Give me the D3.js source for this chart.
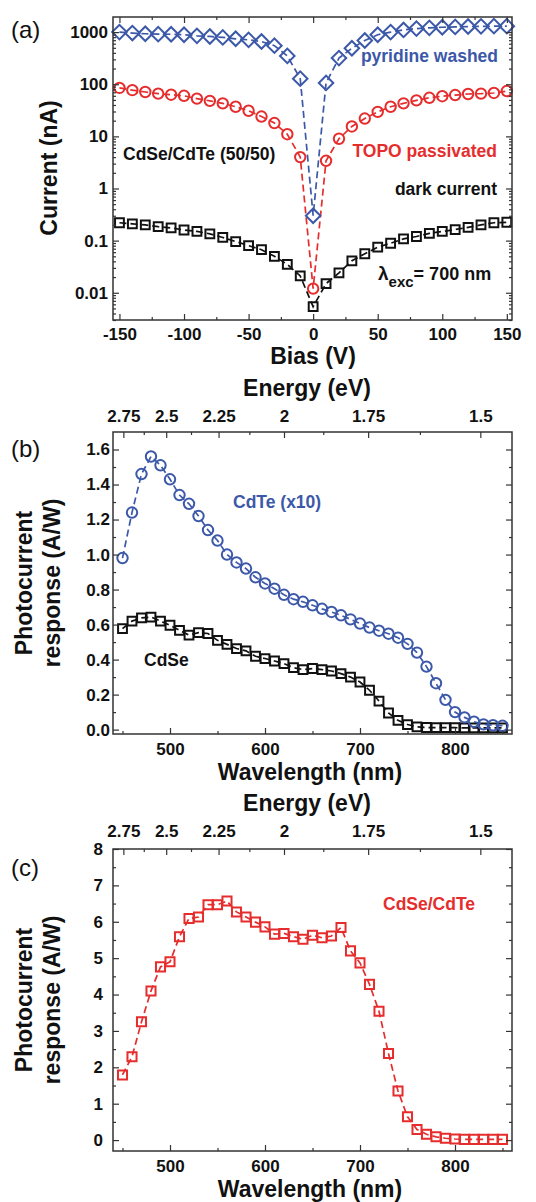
<!DOCTYPE html>
<html>
<head>
<meta charset="utf-8">
<script src="https://cdn.jsdelivr.net/npm/d3@7"></script>
<style>
  body { margin: 0; background: #fff; }
  svg { display: block; }
</style>
</head>
<body>
<script>
// (a) current vs bias
const biasV = [-150, -140, -130, -120, -110, -100, -90, -80, -70, -60, -50, -40, -30, -20, -10, 0,
  10, 20, 30, 40, 50, 60, 70, 80, 90, 100, 110, 120, 130, 140, 150];
const pyridine = [1000, 960, 930, 915, 910, 890, 850, 825, 790, 745, 710, 660, 550, 350, 128, 0.3,
  106, 318, 490, 690, 890, 1000, 1100, 1170, 1210, 1240, 1260, 1280, 1290, 1300, 1300];
const topo = [85, 77, 71, 66, 63, 60, 53, 48, 43, 37, 31, 24, 18, 11, 4, 0.012,
  3.4, 9, 15.5, 22, 29.5, 37, 43, 49, 55, 59, 62, 65, 66, 68, 74];
const dark = [0.22, 0.21, 0.2, 0.185, 0.175, 0.16, 0.15, 0.135, 0.115, 0.096, 0.08, 0.067, 0.05, 0.035, 0.021, 0.0054,
  0.015, 0.024, 0.041, 0.056, 0.075, 0.089, 0.108, 0.12, 0.138, 0.15, 0.163, 0.18, 0.2, 0.22, 0.225];
const biasTicks = [-150, -100, -50, 0, 50, 100, 150];
const biasMinor = [-125, -75, -25, 25, 75, 125];
const currentTicks = [0.01, 0.1, 1, 10, 100, 1000];

// (b), (c) spectra
const wavelength = [450, 460, 470, 480, 490, 500, 510, 520, 530, 540, 550, 560, 570, 580, 590, 600,
  610, 620, 630, 640, 650, 660, 670, 680, 690, 700, 710, 720, 730, 740, 750, 760, 770, 780, 790, 800,
  810, 820, 830, 840, 850];
const cdte = [0.98, 1.24, 1.46, 1.56, 1.51, 1.43, 1.34, 1.29, 1.22, 1.14, 1.08, 1.0, 0.955, 0.92, 0.87, 0.835,
  0.805, 0.77, 0.745, 0.73, 0.71, 0.69, 0.672, 0.653, 0.63, 0.606, 0.583, 0.565, 0.548, 0.525, 0.49, 0.44,
  0.36, 0.265, 0.17, 0.1, 0.07, 0.045, 0.03, 0.025, 0.022];
const cdse = [0.577, 0.62, 0.638, 0.643, 0.62, 0.596, 0.567, 0.54, 0.554, 0.549, 0.51, 0.487, 0.463, 0.45, 0.419, 0.406,
  0.392, 0.377, 0.354, 0.343, 0.349, 0.343, 0.335, 0.32, 0.3, 0.272, 0.225, 0.163, 0.095, 0.053, 0.029, 0.016,
  0.012, 0.011, 0.011, 0.011, 0.01, 0.01, 0.01, 0.01, 0.01];
const blend = [1.79, 2.29, 3.25, 4.1, 4.76, 4.9, 5.59, 6.09, 6.13, 6.47, 6.47, 6.57, 6.27, 6.13, 5.99, 5.86,
  5.66, 5.68, 5.59, 5.52, 5.63, 5.56, 5.61, 5.84, 5.2, 4.87, 4.28, 3.54, 2.38, 1.35, 0.64, 0.29,
  0.16, 0.09, 0.05, 0.03, 0.02, 0.02, 0.02, 0.02, 0.02];
const wlTicks = [500, 600, 700, 800];
const wlMinor = [450, 550, 650, 750, 850];
const energyTicks = [2.75, 2.5, 2.25, 2, 1.75, 1.5];
const energyLabels = ["2.75", "2.5", "2.25", "2", "1.75", "1.5"];
const energyMinor = [2.625, 2.375, 2.125, 1.875, 1.625];
const respTicksB = [0, 0.2, 0.4, 0.6, 0.8, 1.0, 1.2, 1.4, 1.6];
const respMinorB = [0.1, 0.3, 0.5, 0.7, 0.9, 1.1, 1.3, 1.5];
const respTicksC = [0, 1, 2, 3, 4, 5, 6, 7, 8];
const respMinorC = [0.5, 1.5, 2.5, 3.5, 4.5, 5.5, 6.5, 7.5];

const FONT = "'Liberation Sans', Arial, sans-serif";
const BLUE = "#3c58a8", RED = "#e62d2d", BLACK = "#111";
const left = 113, right = 512;

const svg = d3.select("body").append("svg").attr("width", 536).attr("height", 1202)
  .attr("font-family", FONT);

function axis(orient, scale, at, values, size, format, pad) {
  const maker = { bottom: d3.axisBottom, top: d3.axisTop, left: d3.axisLeft, right: d3.axisRight }[orient];
  const a = maker(scale).tickValues(values).tickSize(-size).tickPadding(pad || 0)
    .tickFormat(format || (() => ""));
  const horiz = orient === "bottom" || orient === "top";
  const g = svg.append("g")
    .attr("transform", horiz ? `translate(0,${at})` : `translate(${at},0)`)
    .call(a)
    .attr("font-family", FONT).attr("font-size", 17).attr("font-weight", "bold");
  g.select(".domain").remove();
  g.selectAll("line").attr("stroke", "#333").attr("stroke-width", 1.2);
  g.selectAll("text").attr("fill", BLACK);
  return g;
}

function frame(top, bottom) {
  svg.append("rect").attr("x", left).attr("y", top).attr("width", right - left).attr("height", bottom - top)
    .attr("fill", "none").attr("stroke", "#333").attr("stroke-width", 1.5);
}

function series(xs, ys, xs_, ys_, color, shape, size) {
  const pts = xs.map((x, i) => [xs_(x), ys_(ys[i])]);
  svg.append("path").attr("d", d3.line()(pts))
    .attr("fill", "none").attr("stroke", color).attr("stroke-width", 1.7).attr("stroke-dasharray", "7,4");
  const sym = d3.symbol().type(shape === "circle" ? d3.symbolCircle : d3.symbolSquare).size(size);
  svg.append("g").selectAll("path").data(pts).join("path")
    .attr("d", sym)
    .attr("transform", d => `translate(${d[0]},${d[1]})` + (shape === "diamond" ? " rotate(45)" : ""))
    .attr("fill", "none").attr("stroke", color).attr("stroke-width", 2);
}

function label(txt, x, y, opts) {
  const o = opts || {};
  return svg.append("text").attr("x", x).attr("y", y).text(txt)
    .attr("font-size", o.size || 17.5).attr("font-weight", o.weight || "bold")
    .attr("fill", o.color || BLACK).attr("text-anchor", o.anchor || "start");
}

function vlabel(txt, x, y) {
  svg.append("text").attr("transform", `translate(${x},${y}) rotate(-90)`)
    .attr("text-anchor", "middle").attr("dominant-baseline", "central")
    .attr("font-size", 23).attr("font-weight", "bold").attr("fill", BLACK).text(txt);
}

// ---------- panel (a)
const aTop = 17, aBot = 320;
const xBias = d3.scaleLinear().domain([-155, 154]).range([left, right]);
const yCur = d3.scaleLog().domain([0.003, 1950]).range([aBot, aTop]);
const logMinor = yCur.ticks().filter(v => !currentTicks.some(t => Math.abs(t - v) / t < 1e-6));

series(biasV, dark, xBias, yCur, BLACK, "square", 78);
series(biasV, topo, xBias, yCur, RED, "circle", 85);
series(biasV, pyridine, xBias, yCur, BLUE, "diamond", 105);

axis("bottom", xBias, aBot, biasTicks, 6, d => d, 8);
axis("bottom", xBias, aBot, biasMinor, 3);
axis("top", xBias, aTop, biasTicks, 6);
axis("top", xBias, aTop, biasMinor, 3);
axis("left", yCur, left, currentTicks, 6, d => String(d), 5);
axis("left", yCur, left, logMinor, 3);
axis("right", yCur, right, currentTicks, 6);
axis("right", yCur, right, logMinor, 3);
frame(aTop, aBot);

label("(a)", 11, 38, { size: 24, weight: "normal" });
label("pyridine washed", 498, 62, { color: BLUE, anchor: "end" });
label("TOPO passivated", 497, 157, { color: RED, anchor: "end" });
label("CdSe/CdTe (50/50)", 123, 160);
label("dark current", 497, 195, { anchor: "end" });
const lam = label("λ", 378, 280, { size: 19 });
lam.append("tspan").attr("dy", 7).attr("font-size", 15).text("exc");
lam.append("tspan").attr("dy", -7).attr("font-size", 18).text("= 700 nm");
label("Bias (V)", 313, 364, { size: 23, anchor: "middle" });
vlabel("Current (nA)", 49, 168);

// ---------- panels (b) and (c)
const xWl = d3.scaleLinear().domain([440, 860]).range([left, right]);
const energyFmt = d => energyLabels[energyTicks.findIndex(e => Math.abs(1240 / e - d) < 1e-6)];

function spectrumFrame(top, bottom, yScale, ticks, minor, tickFmt, padL, padT, padB) {
  axis("bottom", xWl, bottom, wlTicks, 6, d => d, padB);
  axis("bottom", xWl, bottom, wlMinor, 3);
  axis("top", xWl, top, energyTicks.map(e => 1240 / e), 6, energyFmt, padT);
  axis("top", xWl, top, energyMinor.map(e => 1240 / e), 3);
  axis("left", yScale, left, ticks, 6, tickFmt, padL);
  axis("left", yScale, left, minor, 3);
  axis("right", yScale, right, ticks, 6);
  axis("right", yScale, right, minor, 3);
  frame(top, bottom);
}

const bTop = 432, bBot = 734;
const yB = d3.scaleLinear().domain([-0.025, 1.7]).range([bBot, bTop]);
series(wavelength, cdse, xWl, yB, BLACK, "square", 78);
series(wavelength, cdte, xWl, yB, BLUE, "circle", 85);
spectrumFrame(bTop, bBot, yB, respTicksB, respMinorB, d3.format(".1f"), 3, 10, 9);
label("(b)", 11, 457, { size: 24, weight: "normal" });
label("CdTe (x10)", 233, 508, { color: BLUE });
label("CdSe", 144, 666);
label("Energy (eV)", 307, 396, { size: 23, anchor: "middle" });
label("Wavelength (nm)", 310, 780, { size: 23, anchor: "middle" });
vlabel("Photocurrent", 24, 583);
vlabel("response (A/W)", 52, 583);

const cTop = 849, cBot = 1151;
const yC = d3.scaleLinear().domain([-0.3, 8]).range([cBot, cTop]);
series(wavelength, blend, xWl, yC, RED, "square", 82);
spectrumFrame(cTop, cBot, yC, respTicksC, respMinorC, d => d, 10, 12, 9);
label("(c)", 11, 876, { size: 24, weight: "normal" });
label("CdSe/CdTe", 383, 910, { color: RED });
label("Energy (eV)", 307, 811, { size: 23, anchor: "middle" });
label("Wavelength (nm)", 310, 1197, { size: 23, anchor: "middle" });
vlabel("Photocurrent", 24, 1000);
vlabel("response (A/W)", 52, 1000);
</script>
</body>
</html>
